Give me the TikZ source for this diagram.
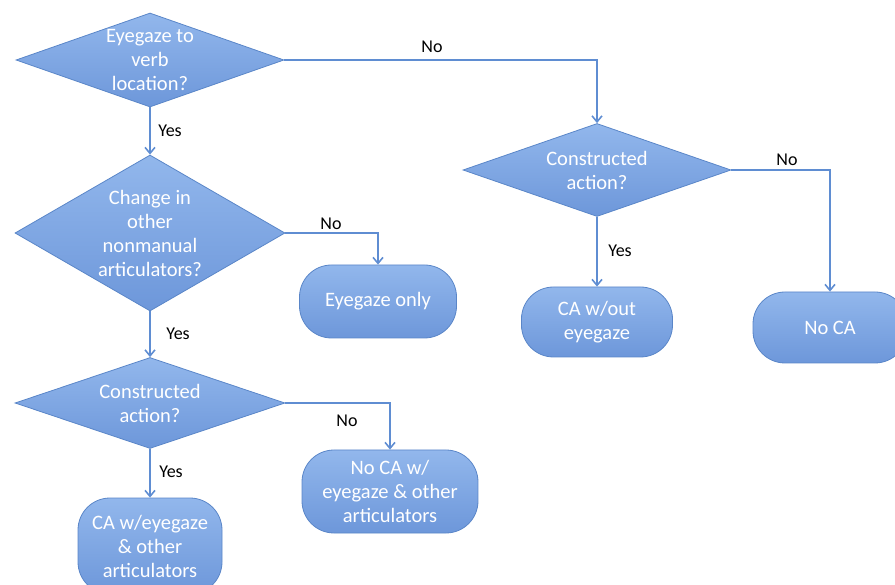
\documentclass[tikz,border=0pt]{standalone}
\usepackage{fontspec}
\setmainfont{Carlito}
\usetikzlibrary{shapes.geometric,arrows.meta}
\definecolor{fillTop}{HTML}{92B7EC}
\definecolor{fillBot}{HTML}{6D97DA}
\definecolor{edgeBlue}{HTML}{5A86C8}
\definecolor{lineBlue}{HTML}{5F8DD2}
\tikzset{
  decision/.style={shape=diamond, draw=edgeBlue, line width=0.8pt, top color=fillTop, bottom color=fillBot, inner sep=0pt},
  dtext/.style={text=white, font=\fontsize{20.5}{24}\selectfont, align=center, inner sep=0pt},
  outcome/.style={rectangle, rounded corners=32pt, draw=edgeBlue, line width=0.8pt, top color=fillTop, bottom color=fillBot, text=white, font=\fontsize{20.5}{24}\selectfont, align=center, inner sep=0pt},
  flow/.style={draw=lineBlue, line width=2pt, -{Straight Barb[length=6pt,width=10pt,line width=1.6pt]}},
  lbl/.style={text=black, font=\fontsize{18}{20}\selectfont, inner sep=0pt}
}
\begin{document}
\begin{tikzpicture}[x=1pt,y=-1pt]
\useasboundingbox (0,0) rectangle (895,585);
\clip (0,0) rectangle (895,585);
% decisions
\node[decision, minimum width=268pt, minimum height=94pt] (d1) at (150,60) {};
\node[dtext] (t1) at (d1.center) {Eyegaze to\\verb\\location?};
\node[decision, minimum width=270pt, minimum height=156pt] (d2) at (150,233) {};
\node[dtext] (t2) at (d2.center) {Change in\\other\\nonmanual\\articulators?};
\node[decision, minimum width=270pt, minimum height=91pt] (d3) at (150,403) {};
\node[dtext] (t3) at (d3.center) {Constructed\\action?};
\node[decision, minimum width=268pt, minimum height=93pt] (d4) at (597,170) {};
\node[dtext] (t4) at (d4.center) {Constructed\\action?};
% outcomes
\node[outcome, minimum width=157pt, minimum height=73pt] (b1) at (378,301.5) {Eyegaze only};
\node[outcome, minimum width=151pt, minimum height=70pt] (b2) at (597,322) {CA w/out\\eyegaze};
\node[outcome, minimum width=154pt, minimum height=71pt] (b3) at (830,327.5) {No CA};
\node[outcome, minimum width=176pt, minimum height=83pt] (b4) at (390,491.5) {No CA w/\\eyegaze \& other\\articulators};
\node[outcome, minimum width=144pt, minimum height=96pt] (b5) at (150,546) {CA w/eyegaze\\\& other\\articulators};
% connectors
\draw[flow] (d1.south) -- (d2.north);
\draw[flow] (d1.east) -| (d4.north);
\draw[flow] (d2.east) -| (b1.north);
\draw[flow] (d2.south) -- (d3.north);
\draw[flow] (d3.east) -| (b4.north);
\draw[flow] (d3.south) -- (b5.north);
\draw[flow] (d4.south) -- (b2.north);
\draw[flow] (d4.east) -| (b3.north);
% labels
\node[lbl] (l1) at (432,47) {No};
\node[lbl] (l2) at (170,131) {Yes};
\node[lbl] (l3) at (331,224) {No};
\node[lbl] (l4) at (178,334) {Yes};
\node[lbl] (l5) at (347,421) {No};
\node[lbl] (l6) at (171,472) {Yes};
\node[lbl] (l7) at (620,251) {Yes};
\node[lbl] (l8) at (787,160) {No};
\end{tikzpicture}
\end{document}
